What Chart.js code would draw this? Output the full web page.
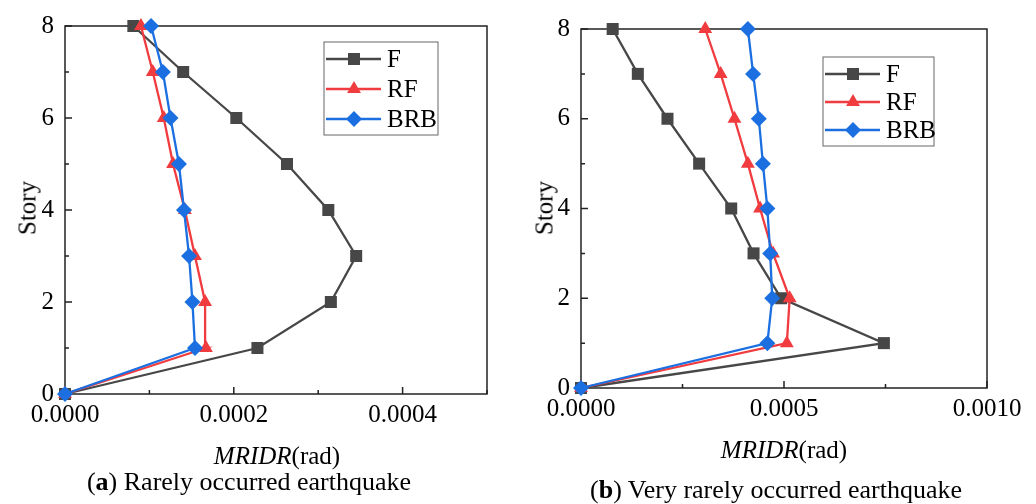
<!DOCTYPE html>
<html>
<head>
<meta charset="utf-8">
<script src="https://cdn.jsdelivr.net/npm/chart.js@4.4.0/dist/chart.umd.min.js"></script>
<style>
  html, body { margin: 0; padding: 0; background: #fff; }
  body { width: 1036px; height: 504px; position: relative; overflow: hidden; font-family: 'Liberation Serif', 'Times New Roman', serif; color: #000; }
  .panel { position: absolute; top: 0; height: 504px; }
  .lbl { position: absolute; font-size: 25px; white-space: nowrap; transform: translate(-50%, -50%); line-height: 1; }
  .cap { font-size: 26px; }
  .rot { transform: translate(-50%, -50%) rotate(-90deg); }
</style>
</head>
<body>
<div class="panel" style="left:0;width:516px"><canvas id="chartA"></canvas></div>
<div class="panel" style="left:516px;width:520px"><canvas id="chartB"></canvas></div>

<div class="lbl rot" style="left:27px;top:208px">Story</div>
<div class="lbl rot" style="left:544px;top:208px">Story</div>
<div class="lbl" style="left:277px;top:455px"><i>MRIDR</i>(rad)</div>
<div class="lbl" style="left:784px;top:449px"><i>MRIDR</i>(rad)</div>
<div class="lbl cap" style="left:249px;top:482px">(<b>a</b>) Rarely occurred earthquake</div>
<div class="lbl cap" style="left:776px;top:490px">(<b>b</b>) Very rarely occurred earthquake</div>

<script>
// story levels (y axis)
const stories = [0, 1, 2, 3, 4, 5, 6, 7, 8];
const seriesNames = ['F', 'RF', 'BRB'];

// (a) rarely occurred earthquake, MRIDR in rad
const rareF   = [0, 2.28e-4, 3.15e-4, 3.45e-4, 3.12e-4, 2.63e-4, 2.03e-4, 1.40e-4, 0.81e-4];
const rareRF  = [0, 1.67e-4, 1.66e-4, 1.54e-4, 1.42e-4, 1.28e-4, 1.17e-4, 1.04e-4, 0.90e-4];
const rareBRB = [0, 1.54e-4, 1.51e-4, 1.47e-4, 1.41e-4, 1.35e-4, 1.25e-4, 1.16e-4, 1.02e-4];

// (b) very rarely occurred earthquake
const veryF   = [0, 7.46e-4, 4.93e-4, 4.25e-4, 3.70e-4, 2.91e-4, 2.13e-4, 1.40e-4, 0.78e-4];
const veryRF  = [0, 5.07e-4, 5.14e-4, 4.73e-4, 4.41e-4, 4.11e-4, 3.78e-4, 3.44e-4, 3.06e-4];
const veryBRB = [0, 4.59e-4, 4.71e-4, 4.66e-4, 4.59e-4, 4.48e-4, 4.38e-4, 4.24e-4, 4.11e-4];

const styles = [
  { color: '#474747', pointStyle: 'rect',     radius: 8.5 },
  { color: '#f03b3f', pointStyle: 'triangle', radius: 8 },
  { color: '#1b6fe0', pointStyle: 'rectRot',  radius: 8 }
];

const FONT = { family: "'Liberation Serif', 'Times New Roman', serif", size: 25 };

function isMajor(v, step) {
  return Math.round(v / step) % 2 === 0;
}

// box round the plot and inward tick marks
const frameAndTicks = {
  id: 'frameAndTicks',
  beforeDatasetsDraw(chart, args, opts) {
    const { ctx, chartArea: a } = chart;
    const xs = chart.scales.x, ys = chart.scales.y;
    ctx.save();
    ctx.strokeStyle = '#222';
    ctx.lineWidth = 1.5;
    ctx.strokeRect(a.left, a.top, a.right - a.left, a.bottom - a.top);
    ctx.beginPath();
    xs.ticks.forEach(t => {
      const px = xs.getPixelForValue(t.value);
      const len = isMajor(t.value, opts.xStep) ? 7 : 4;
      ctx.moveTo(px, a.bottom);
      ctx.lineTo(px, a.bottom - len);
    });
    ys.ticks.forEach(t => {
      const py = ys.getPixelForValue(t.value);
      const len = isMajor(t.value, 1) ? 7 : 4;
      ctx.moveTo(a.left, py);
      ctx.lineTo(a.left + len, py);
    });
    ctx.stroke();
    ctx.restore();
  }
};

// legend in a box inside the plot
const boxLegend = {
  id: 'boxLegend',
  afterDraw(chart, args, opts) {
    const { ctx, chartArea: a } = chart;
    const x0 = a.left + opts.x, y0 = a.top + opts.y;
    ctx.save();
    ctx.strokeStyle = '#666';
    ctx.lineWidth = 1;
    ctx.strokeRect(x0, y0, opts.w, opts.h);
    chart.data.datasets.forEach((ds, i) => {
      const cy = y0 + opts.row0 + i * opts.gap;
      ctx.strokeStyle = ds.borderColor;
      ctx.lineWidth = 2.5;
      ctx.beginPath();
      ctx.moveTo(x0 + 2, cy);
      ctx.lineTo(x0 + 57, cy);
      ctx.stroke();
      ctx.fillStyle = ds.backgroundColor;
      Chart.helpers.drawPoint(ctx, {
        pointStyle: ds.pointStyle, radius: ds.pointRadius, rotation: 0, borderWidth: 0
      }, x0 + 30, cy);
      ctx.fillStyle = '#000';
      ctx.font = FONT.size + 'px ' + FONT.family;
      ctx.textBaseline = 'middle';
      ctx.textAlign = 'left';
      ctx.fillText(ds.label, x0 + 63, cy + 1);
    });
    ctx.restore();
  }
};

function makeDatasets(lists) {
  return lists.map((vals, i) => ({
    label: seriesNames[i],
    data: stories.map((s, k) => ({ x: vals[k], y: s })),
    showLine: true,
    borderColor: styles[i].color,
    backgroundColor: styles[i].color,
    borderWidth: 2.3,
    pointStyle: styles[i].pointStyle,
    pointRadius: styles[i].radius,
    pointBorderWidth: 0,
    clip: false,
    order: 3 - i
  }));
}

function makeChart(id, lists, xMax, xStep, pad, legend) {
  return new Chart(document.getElementById(id), {
    type: 'scatter',
    data: { datasets: makeDatasets(lists) },
    options: {
      responsive: true,
      maintainAspectRatio: false,
      animation: false,
      layout: { padding: pad },
      plugins: {
        legend: { display: false },
        tooltip: { enabled: false },
        frameAndTicks: { xStep: xStep },
        boxLegend: legend
      },
      scales: {
        x: {
          type: 'linear', min: 0, max: xMax,
          grid: { display: false, drawTicks: false },
          border: { display: false },
          afterFit(scale) { scale.height = 40; },
          ticks: {
            stepSize: xStep, autoSkip: false, maxRotation: 0, padding: 6,
            color: '#000', font: FONT,
            callback: v => isMajor(v, xStep) ? v.toFixed(4) : ''
          }
        },
        y: {
          type: 'linear', min: 0, max: 8,
          grid: { display: false, drawTicks: false },
          border: { display: false },
          afterFit(scale) { scale.width = 65; },
          ticks: {
            stepSize: 1, autoSkip: false, padding: 11,
            color: '#000', font: FONT,
            callback: v => isMajor(v, 1) ? String(v) : ''
          }
        }
      }
    },
    plugins: [frameAndTicks, boxLegend]
  });
}

makeChart('chartA', [rareF, rareRF, rareBRB], 0.0005, 0.0001,
  { left: 0, top: 21, right: 29, bottom: 70 },
  { x: 259, y: 16, w: 114, h: 93, row0: 17, gap: 30 });

makeChart('chartB', [veryF, veryRF, veryBRB], 0.001, 0.00025,
  { left: 0, top: 29, right: 49, bottom: 76 },
  { x: 242, y: 28, w: 111, h: 89, row0: 17, gap: 28 });
</script>
</body>
</html>
